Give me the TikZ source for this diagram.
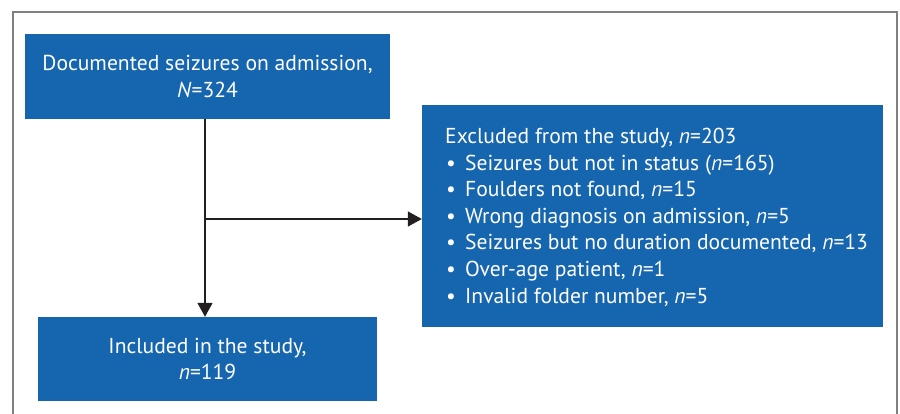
\documentclass[tikz,border=0pt]{standalone}
\usepackage{fontspec}
\setmainfont{PT Sans}
\usetikzlibrary{arrows.meta}
\definecolor{boxblue}{RGB}{21,101,175}
\definecolor{framegray}{RGB}{128,128,128}
\definecolor{arrowblack}{RGB}{35,31,32}
\tikzset{
  box/.style={fill=boxblue, draw=none, text=white, inner sep=0pt, align=center,
    font=\fontsize{21.6}{26.5}\selectfont},
  linetext/.style={anchor=base west, text=white, inner sep=0pt,
    font=\fontsize{21.6}{26.5}\selectfont},
  arr/.style={draw=arrowblack, line width=1.5pt, -{Triangle[length=14pt,width=15pt]}},
  frameline/.style={draw=framegray, line width=1.2pt}
}
\newcommand{\bul}{\makebox[20pt][l]{\hspace{1pt}•}}
\begin{document}
\begin{tikzpicture}[x=1pt,y=-1pt]
\useasboundingbox (0,0) rectangle (900,414);
\draw[frameline] (13,420) -- (13,12) -- (897,12) -- (897,420);
\node[box, minimum width=365pt, minimum height=85pt] (b1) at (207.5,76.5)
  {Documented seizures on admission,\\\textit{N}=324};
\node[box, minimum width=461pt, minimum height=222pt] (b2) at (652.5,216) {};
\node[box, minimum width=339pt, minimum height=84pt] (b3) at (207.5,359)
  {Included in the study,\\\textit{n}=119};
\node[linetext] (e0) at (445,144) {Excluded from the study, \textit{n}=203};
\node[linetext] (e1) at (445,170.5) {\bul Seizures but not in status (\textit{n}=165)};
\node[linetext] (e2) at (445,197) {\bul Foulders not found, \textit{n}=15};
\node[linetext] (e3) at (445,223.5) {\bul Wrong diagnosis on admission, \textit{n}=5};
\node[linetext] (e4) at (445,250) {\bul Seizures but no duration documented, \textit{n}=13};
\node[linetext] (e5) at (445,276.5) {\bul Over-age patient, \textit{n}=1};
\node[linetext] (e6) at (445,303) {\bul Invalid folder number, \textit{n}=5};
\coordinate (top) at ([xshift=-2.5pt]b1.south);
\coordinate (j) at (top |- 0,219);
\draw[arr] (top) -- (top |- b3.north);
\draw[arr] (j) -- (j -| b2.west);
\end{tikzpicture}
\end{document}
